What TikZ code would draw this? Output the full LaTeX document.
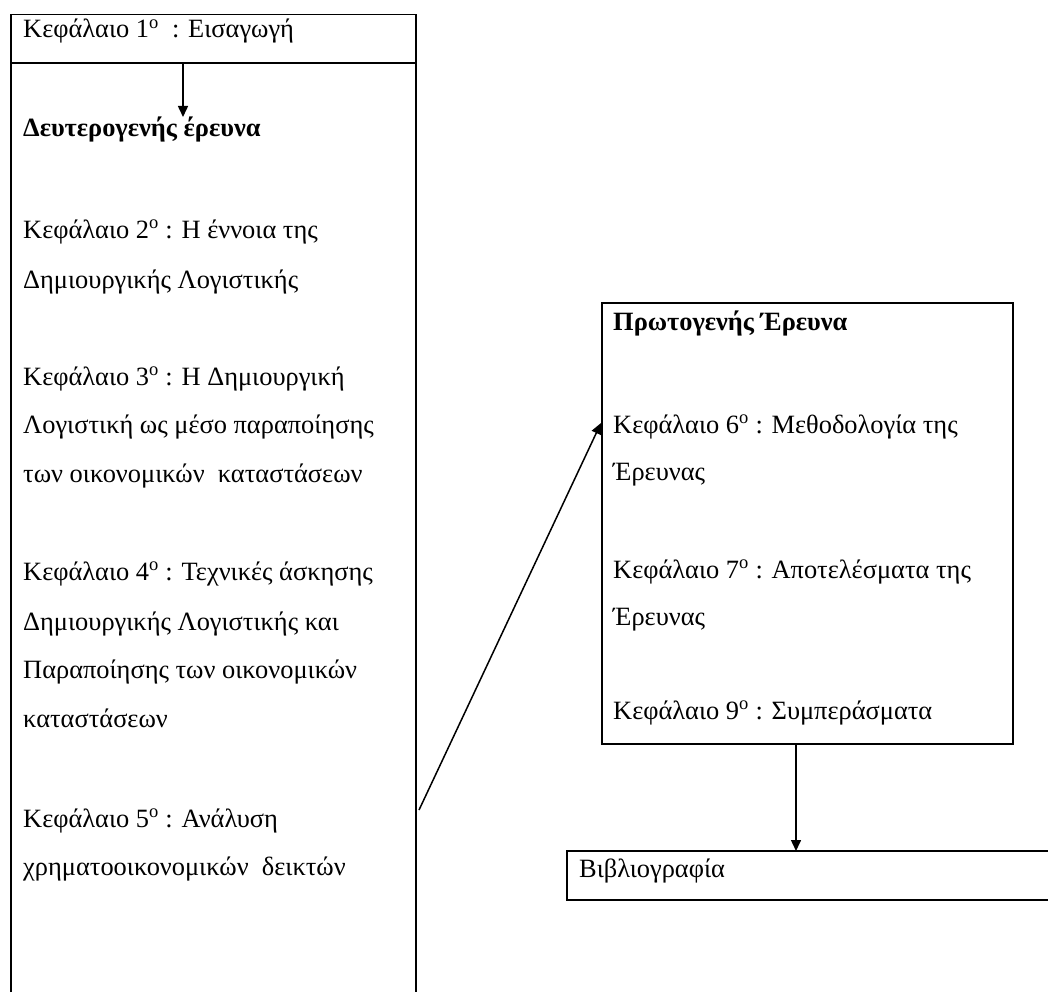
\documentclass[tikz,border=0pt]{standalone}
\usepackage{fontspec}
\setmainfont{Liberation Serif}
\usetikzlibrary{arrows.meta}
\newcommand{\ord}[1]{#1\textsuperscript{ο}}
\begin{document}
\begin{tikzpicture}[x=1pt,y=-1pt,
  txt/.style={anchor=base west, inner sep=0pt, font=\fontsize{26.4}{30}\selectfont},
  bx/.style={draw, line width=1.5pt},
  arr/.style={-{Triangle[width=10pt,length=11pt]}, line width=1.5pt}]
\useasboundingbox (0,0) rectangle (1048,992);
% boxes
\node[bx, anchor=north west, minimum width=405pt, minimum height=49pt, inner sep=0pt] (intro) at (10,14) {};
\draw[bx] (11,992) -- (11,63) -- (416,63) -- (416,992);
\node[bx, anchor=north west, minimum width=411pt, minimum height=441pt, inner sep=0pt] (prim) at (601,302) {};
\draw[bx] (1048,851) -- (567,851) -- (567,900) -- (1048,900);
% texts
\node[txt] (t1) at (23,38) {\ord{Κεφάλαιο 1}\ \ : Εισαγωγή};
\node[txt] (h1) at (23,137) {\bfseries Δευτερογενής έρευνα};
\node[txt] (c2a) at (23,238) {\ord{Κεφάλαιο 2} : Η έννοια της};
\node[txt] (c2b) at (23,288) {Δημιουργικής Λογιστικής};
\node[txt] (c3a) at (23,385) {\ord{Κεφάλαιο 3} : Η Δημιουργική};
\node[txt] (c3b) at (23,433) {Λογιστική ως μέσο παραποίησης};
\node[txt] (c3c) at (23,482) {των οικονομικών\ \ καταστάσεων};
\node[txt] (c4a) at (23,580) {\ord{Κεφάλαιο 4} : Τεχνικές άσκησης};
\node[txt] (c4b) at (23,630) {Δημιουργικής Λογιστικής και};
\node[txt] (c4c) at (23,678) {Παραποίησης των οικονομικών};
\node[txt] (c4d) at (23,727) {καταστάσεων};
\node[txt] (c5a) at (23,827) {\ord{Κεφάλαιο 5} : Ανάλυση};
\node[txt] (c5b) at (23,875) {χρηματοοικονομικών\ \ δεικτών};
\node[txt] (h2) at (613,330) {\bfseries Πρωτογενής Έρευνα};
\node[txt] (c6a) at (613,433) {\ord{Κεφάλαιο 6} : Μεθοδολογία\ της};
\node[txt] (c6b) at (613,480) {Έρευνας};
\node[txt] (c7a) at (613,578) {\ord{Κεφάλαιο 7} : Αποτελέσματα της};
\node[txt] (c7b) at (613,625) {Έρευνας};
\node[txt] (c9) at (613,719) {\ord{Κεφάλαιο 9} : Συμπεράσματα};
\node[txt] (bib) at (579,877) {Βιβλιογραφία};
% connectors
\coordinate (a1s) at (183,63);
\coordinate (a1e) at (183,117);
\coordinate (a2s) at (419,810);
\coordinate (a2e) at (601,423);
\coordinate (a3s) at (796,743);
\coordinate (a3e) at (796,851);
\draw[arr] (a1s) -- (a1e);
\draw[arr] (a2s) -- (a2e);
\draw[arr] (a3s) -- (a3e);
\end{tikzpicture}
\end{document}
